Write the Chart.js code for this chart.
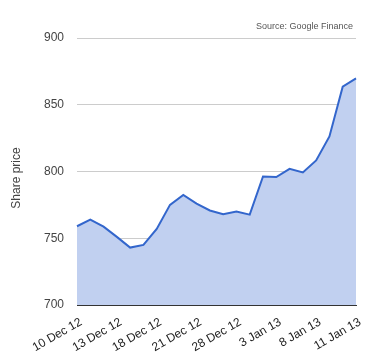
<!DOCTYPE html>
<html lang="en">
<head>
    <meta charset="UTF-8">
    <title>Share price</title>
    <script src="https://cdn.jsdelivr.net/npm/chart.js"></script>
    <style>
        html, body { margin: 0; padding: 0; background: #fff; }
        #wrap { width: 380px; height: 360px; }
    </style>
</head>
<body>
    <div id="wrap"><canvas id="priceChart" width="380" height="360"></canvas></div>
    <script>
    // trading days shown in the chart
    const dates = ['10 Dec 12', '11 Dec 12', '12 Dec 12', '13 Dec 12', '14 Dec 12', '17 Dec 12',
        '18 Dec 12', '19 Dec 12', '20 Dec 12', '21 Dec 12', '26 Dec 12', '27 Dec 12',
        '28 Dec 12', '31 Dec 12', '2 Jan 13', '3 Jan 13', '4 Jan 13', '7 Jan 13',
        '8 Jan 13', '9 Jan 13', '10 Jan 13', '11 Jan 13'];
    const prices = [759, 764, 758.7, 751, 743, 745, 757, 775, 782.5, 776, 770.8,
        768, 770, 767.7, 796.3, 795.8, 802, 799.3, 808.3, 826.3, 863.5, 869.7];
    const tickLabels = ['10 Dec 12', '13 Dec 12', '18 Dec 12', '21 Dec 12',
        '28 Dec 12', '3 Jan 13', '8 Jan 13', '11 Jan 13'];
    const yTicks = [700, 750, 800, 850, 900];

    const FONT = "'Liberation Sans', Arial, sans-serif";

    // source note top right and the axis title on the left
    const extraText = {
        id: 'extraText',
        afterDraw(chart) {
            const c = chart.ctx;
            c.save();
            c.font = "9px " + FONT;
            c.fillStyle = '#555';
            c.textAlign = 'right';
            c.textBaseline = 'middle';
            c.fillText('Source: Google Finance', chart.chartArea.right - 3, 27);

            c.translate(17, 178);
            c.rotate(-Math.PI / 2);
            c.font = "12px " + FONT;
            c.fillStyle = '#444';
            c.textAlign = 'center';
            c.fillText('Share price', 0, 0);
            c.restore();
        }
    };

    const ctx = document.getElementById('priceChart').getContext('2d');
    new Chart(ctx, {
        type: 'line',
        data: {
            labels: dates,
            datasets: [{
                data: prices,
                borderColor: '#3366cc',
                backgroundColor: '#c1d0f0',
                borderWidth: 2,
                fill: 'start',
                pointRadius: 0,
                tension: 0
            }]
        },
        options: {
            responsive: false,
            animation: false,
            layout: { padding: { top: 38, right: 24, left: 0, bottom: 0 } },
            plugins: {
                legend: { display: false },
                tooltip: { enabled: false }
            },
            scales: {
                x: {
                    offset: false,
                    grid: { display: false },
                    border: { display: true, color: '#333', width: 1 },
                    afterFit(scale) { scale.height = 55; },
                    ticks: {
                        autoSkip: false,
                        minRotation: 30,
                        maxRotation: 30,
                        color: '#222',
                        font: { family: FONT, size: 12 },
                        padding: 2,
                        labelOffset: 4,
                        callback(value, index) {
                            return tickLabels.includes(dates[index]) ? dates[index] : null;
                        }
                    }
                },
                y: {
                    min: 700,
                    max: 900,
                    afterFit(scale) { scale.width = 77; },
                    afterBuildTicks(scale) {
                        scale.ticks = yTicks.map(v => ({ value: v }));
                    },
                    border: { display: false },
                    grid: {
                        color: c => c.tick && c.tick.value === 700 ? '#333' : '#cccccc',
                        drawTicks: false
                    },
                    ticks: {
                        color: '#444',
                        padding: 13,
                        font: { family: FONT, size: 12 }
                    }
                }
            }
        },
        plugins: [extraText]
    });
    </script>
</body>
</html>
